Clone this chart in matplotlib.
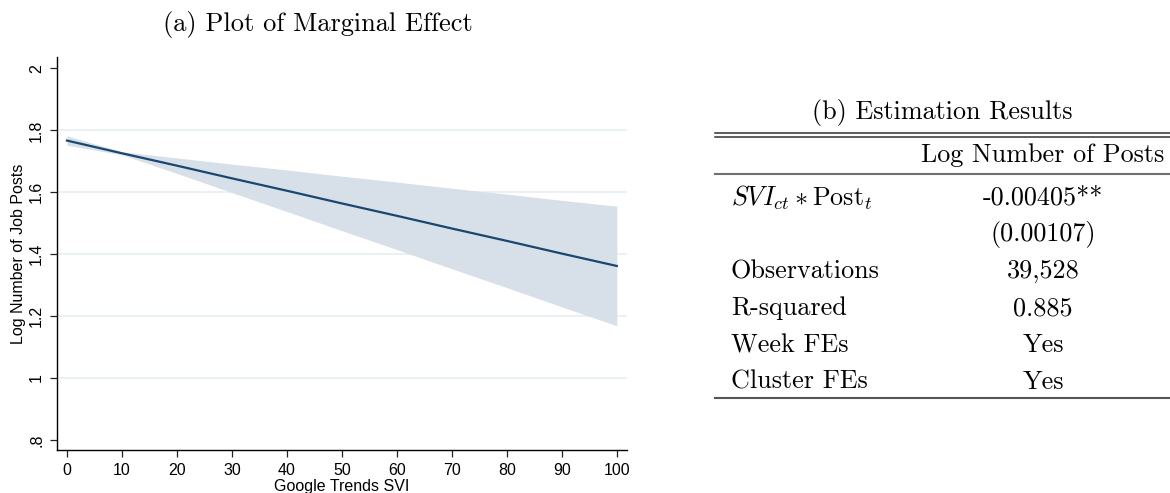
import numpy as np
import matplotlib
matplotlib.use('Agg')
import matplotlib.pyplot as plt
from matplotlib.lines import Line2D

plt.rcParams['mathtext.fontset'] = 'cm'
plt.rcParams['axes.unicode_minus'] = False

# marginal effect at Google Trends SVI = 0, 10, ..., 100
svi = [0, 10, 20, 30, 40, 50, 60, 70, 80, 90, 100]
fit = [1.767, 1.726, 1.686, 1.645, 1.605, 1.564, 1.524, 1.483, 1.443, 1.402, 1.362]
ci_hi = [1.782, 1.731, 1.711, 1.691, 1.672, 1.652, 1.633, 1.613, 1.594, 1.574, 1.555]
ci_lo = [1.752, 1.721, 1.661, 1.599, 1.538, 1.476, 1.415, 1.353, 1.292, 1.230, 1.169]

xticks = [0, 10, 20, 30, 40, 50, 60, 70, 80, 90, 100]
yticks = [0.8, 1.0, 1.2, 1.4, 1.6, 1.8, 2.0]
ytick_labels = ['.8', '1', '1.2', '1.4', '1.6', '1.8', '2']
grid_y = [1.0, 1.2, 1.4, 1.6, 1.8]

# estimation table
col_header = 'Log Number of Posts'
row_labels = [r'$SVI_{ct}\ast\mathrm{Post}_t$', '', 'Observations', 'R-squared', 'Week FEs', 'Cluster FEs']
row_values = ['-0.00405**', '(0.00107)', '39,528', '0.885', 'Yes', 'Yes']

W, H = 1170, 493
fig = plt.figure(figsize=(W / 100, H / 100), dpi=100)

ax = fig.add_axes([56.7 / W, 1 - 450.3 / H, (626.7 - 56.7) / W, (450.3 - 57.3) / H])
for y in grid_y:
    ax.axhline(y, color='#e6eff2', linewidth=1.2, zorder=0)
ax.fill_between(svi, ci_lo, ci_hi, color='#d7dfe8', linewidth=0, zorder=1)
ax.plot(svi, fit, color='#1a476f', linewidth=1.6, zorder=2)

ax.set_xlim(-1.87, 101.8)
ax.set_ylim(0.7666, 2.036)
ax.set_xticks(xticks)
ax.set_yticks(yticks)
ax.set_yticklabels(ytick_labels, rotation=90, va='center')
ax.tick_params(labelsize=11.5, length=5, width=0.9, color='#222222', pad=4)
for lab in ax.get_xticklabels() + ax.get_yticklabels():
    lab.set_family('Liberation Sans')
ax.set_xlabel('Google Trends SVI', fontsize=11.5, family='Liberation Sans', labelpad=1)
ax.set_ylabel('Log Number of Job Posts', fontsize=11.5, family='Liberation Sans', labelpad=2)
[ax.spines[s].set_visible(False) for s in ['top', 'right']]
for s in ['left', 'bottom']:
    ax.spines[s].set_linewidth(1.0)

fig.text(318 / W, 1 - 24 / H, '(a) Plot of Marginal Effect', family='cmr10',
         fontsize=19, ha='center', va='center')

# table drawn in pixel coordinates
tax = fig.add_axes([0, 0, 1, 1])
tax.set_xlim(0, W)
tax.set_ylim(H, 0)
tax.axis('off')
tx0, tx1 = 715, 1170
col_x = 1043
fs = 18.8
tax.text((tx0 + tx1) / 2, 113, '(b) Estimation Results', family='cmr10', fontsize=fs,
         ha='center', va='center')
for y in [133, 136.5]:
    tax.add_line(Line2D([tx0, tx1], [y, y], color='#333333', linewidth=1.1))
tax.add_line(Line2D([tx0, tx1], [174, 174], color='#707070', linewidth=1.5))
tax.text(col_x, 155, col_header, family='cmr10', fontsize=fs, ha='center', va='center')
row_y = 198
for lab, val in zip(row_labels, row_values):
    if lab:
        tax.text(731, row_y, lab, family='cmr10', fontsize=fs, ha='left', va='center')
    tax.text(col_x, row_y, val, family='cmr10', fontsize=fs, ha='center', va='center')
    row_y += 36.8
tax.add_line(Line2D([tx0, tx1], [398, 398], color='#555555', linewidth=1.5))

fig.savefig('out.png', dpi=100)
